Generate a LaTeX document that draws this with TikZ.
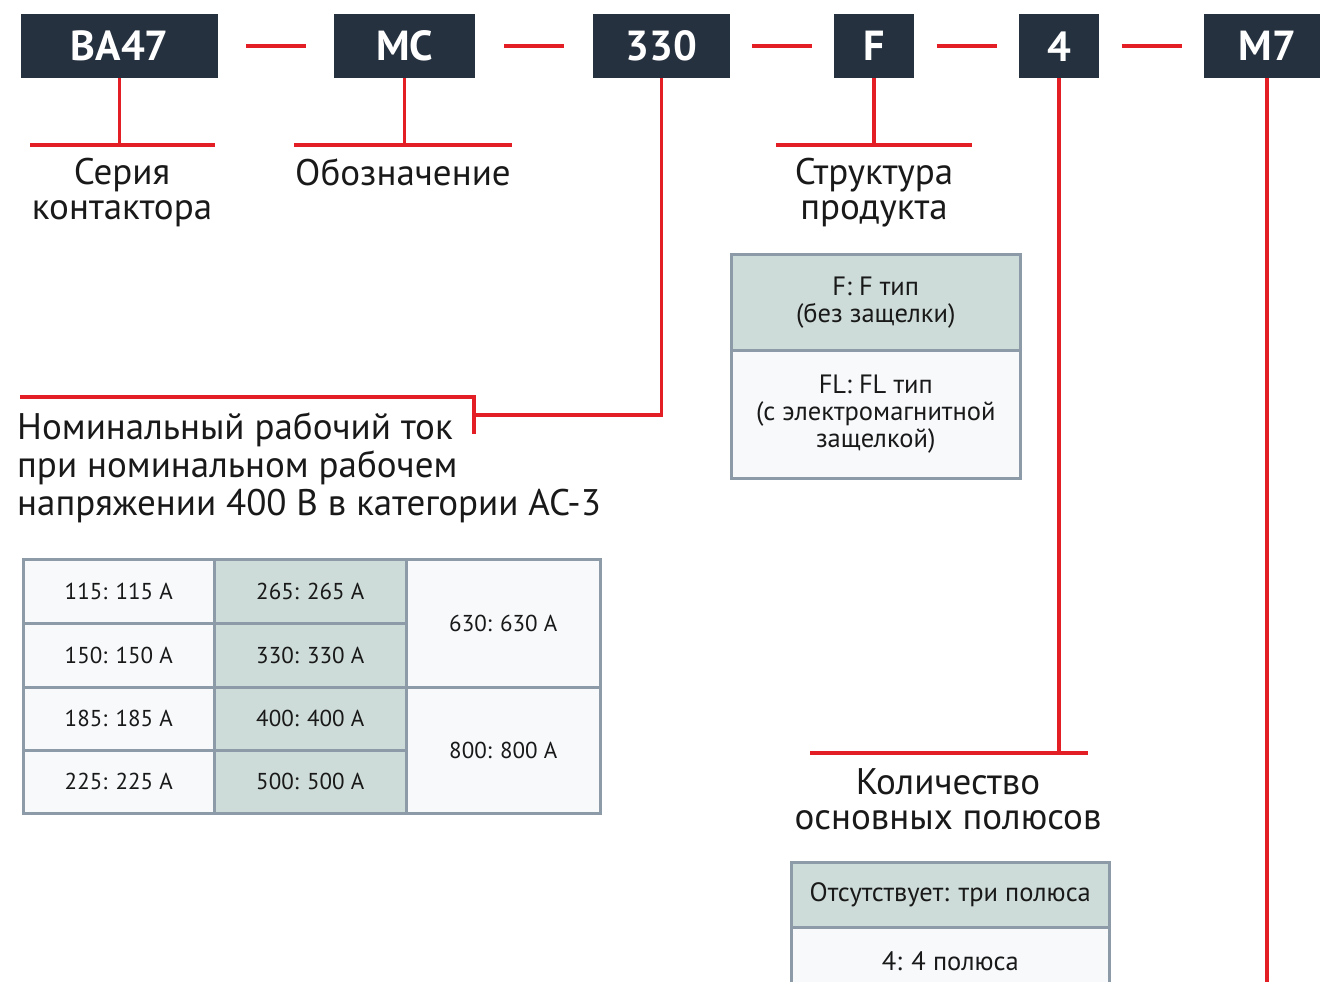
\documentclass[tikz,border=0pt]{standalone}
\usepackage{fontspec}
\setmainfont{PT Sans}
\usetikzlibrary{positioning,calc}
\definecolor{boxdark}{HTML}{263140}
\definecolor{linered}{HTML}{E31E24}
\definecolor{cellgreen}{HTML}{CDDCD8}
\definecolor{celllight}{HTML}{F7F9FB}
\definecolor{cellrule}{HTML}{8C9BA7}

\begin{document}
\begin{tikzpicture}[x=1pt,y=-1pt,
  code/.style={fill=boxdark,text=white,font=\fontsize{42}{44}\selectfont\bfseries,
    minimum height=64pt,inner sep=0pt,anchor=north west},
  lead/.style={linered,line width=3.5pt},
  caption/.style={font=\fontsize{37}{35}\selectfont,align=center,text=black!90,inner sep=0pt},
  cell/.style={draw=cellrule,line width=2.5pt,inner sep=0pt,anchor=north west,
    font=\fontsize{23}{27}\selectfont,align=center,text=black!90},
  bigcell/.style={cell,font=\fontsize{26.5}{27}\selectfont}]
  \clip (0,0) rectangle (1320,982);

  % code boxes
  \node[code,minimum width=197pt] (ba) at (21,14) {BA47};
  \node[code,minimum width=141pt] (mc) at (334,14) {MC};
  \node[code,minimum width=137pt] (cur) at (593,14) {330};
  \node[code,minimum width=80pt] (fl) at (834,14) {F};
  \node[code,minimum width=80pt] (pol) at (1019,14) {4};
  \node[code,minimum width=126pt] (mt) at (1204,14) {M7};

  % dashes
  \foreach \a/\b in {ba/mc,mc/cur,cur/fl,fl/pol,pol/mt}
    \draw[lead] ($(\a.east)!0.5!(\b.west)+(-30,0)$) -- ($(\a.east)!0.5!(\b.west)+(30,0)$);

  % captions
  \node[caption] (ser) at (122,193) {Серия\\контактора};
  \node[caption] (des) at (403,172) {Обозначение};
  \node[caption] (str) at (874,193) {Структура\\продукта};
  \node[caption,font=\fontsize{37}{38}\selectfont,align=left,anchor=west] (nom) at (17,468)
    {Номинальный рабочий ток\\при номинальном рабочем\\напряжении 400 В в категории AC-3};
  \node[caption] (qty) at (948,799) {Количество\\основных полюсов};

  % leads
  \coordinate (serT) at (122,145);
  \coordinate (desT) at (403,145);
  \coordinate (strT) at (874,145);
  \coordinate (qtyT) at (1059,753);
  \coordinate (curK) at (661,415);
  \coordinate (nomK) at (474,415);
  \draw[lead] (ba.south) -- (ba.south |- serT);
  \draw[lead] (30,145) -- (215,145);
  \draw[lead] (mc.south) -- (mc.south |- desT);
  \draw[lead] (294,145) -- (512,145);
  \draw[lead] (fl.south) -- (fl.south |- strT);
  \draw[lead] (776,145) -- (972,145);
  \draw[lead] (cur.south) -- (cur.south |- curK) -- (nomK);
  \draw[lead] (20,397) -- (474,397) -- (474,434);
  \draw[lead] (pol.south) -- (pol.south |- qtyT);
  \draw[lead] (810,753) -- (1088,753);
  \draw[lead] (mt.south) -- ++(0,920);

  % structure table
  \node[bigcell,fill=cellgreen,minimum width=289pt,minimum height=96pt] (tf) at (730,253)
    {F: F тип\\(без защелки)};
  \node[bigcell,fill=celllight,minimum width=289pt,minimum height=128pt] (tfl) at (730,349)
    {FL: FL тип\\(с электромагнитной\\защелкой)};

  % current table
  \node[cell,fill=celllight,minimum width=191pt,minimum height=64pt] (c115) at (22,558) {115: 115 A};
  \node[cell,fill=celllight,minimum width=191pt,minimum height=64pt] (c150) at (22,622) {150: 150 A};
  \node[cell,fill=celllight,minimum width=191pt,minimum height=63pt] (c185) at (22,686) {185: 185 A};
  \node[cell,fill=celllight,minimum width=191pt,minimum height=63pt] (c225) at (22,749) {225: 225 A};
  \node[cell,fill=cellgreen,minimum width=192pt,minimum height=64pt] (c265) at (213,558) {265: 265 A};
  \node[cell,fill=cellgreen,minimum width=192pt,minimum height=64pt] (c330) at (213,622) {330: 330 A};
  \node[cell,fill=cellgreen,minimum width=192pt,minimum height=63pt] (c400) at (213,686) {400: 400 A};
  \node[cell,fill=cellgreen,minimum width=192pt,minimum height=63pt] (c500) at (213,749) {500: 500 A};
  \node[cell,fill=celllight,minimum width=194pt,minimum height=128pt] (c630) at (405,558) {630: 630 A};
  \node[cell,fill=celllight,minimum width=194pt,minimum height=126pt] (c800) at (405,686) {800: 800 A};

  % poles table
  \node[bigcell,fill=cellgreen,minimum width=318pt,minimum height=65pt] (p3) at (790,861) {Отсутствует: три полюса};
  \node[bigcell,fill=celllight,minimum width=318pt,minimum height=68pt] (p4) at (790,926) {4: 4 полюса};
\end{tikzpicture}
\end{document}
